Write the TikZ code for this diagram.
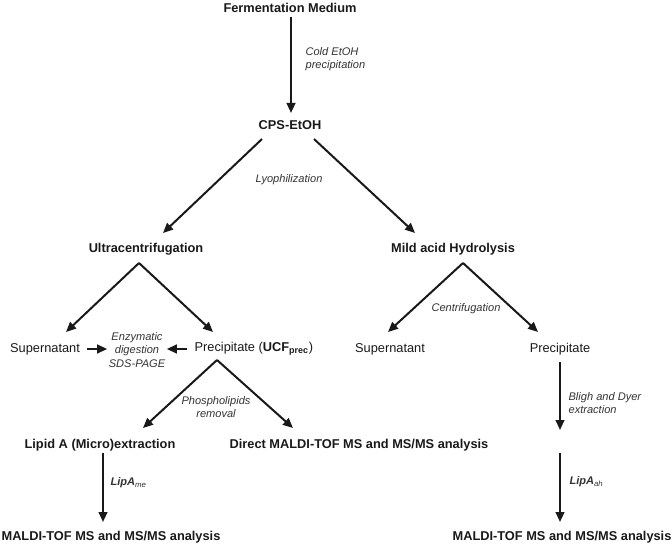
\documentclass[tikz,border=0pt]{standalone}
\usepackage{fontspec}
\setmainfont{Liberation Sans}
\usetikzlibrary{arrows.meta,calc}

\begin{document}
\begin{tikzpicture}[x=0.75pt, y=-0.75pt,
        hd/.style={font=\fontsize{9.6}{11}\selectfont\bfseries, text=black!90, inner sep=1pt},
        pl/.style={font=\fontsize{9.6}{11}\selectfont, text=black!90, inner sep=1pt},
        note/.style={font=\fontsize{8.3}{9.8}\selectfont\itshape, text=black!80, align=center, inner sep=1pt},
        arr/.style={-{Triangle[length=7.5pt,width=6.5pt]}, line width=1.5pt, black!90}
    ]
    \useasboundingbox (0,0) rectangle (672,549);

    % stufen
    \node[hd] (fm) at (290,8) {Fermentation Medium};
    \node[hd] (cps) at (290,125) {CPS-EtOH};
    \node[hd] (uc) at (146,249) {Ultracentrifugation};
    \node[hd] (mah) at (453,249) {Mild acid Hydrolysis};

    \node[pl] (supL) at (45,349) {Supernatant};
    \node[note] (enz) at (137,350) {Enzymatic\\digestion\\SDS-PAGE};
    \node[pl, anchor=west] (precL) at (193,349) {Precipitate (\textbf{UCF}\textsubscript{\textbf{prec}})};
    \node[pl] (supR) at (390,349) {Supernatant};
    \node[pl] (precR) at (560,349) {Precipitate};

    \node[hd] (lipid) at (100,445) {Lipid A (Micro)extraction};
    \node[hd] (direct) at (359,445) {Direct MALDI-TOF MS and MS/MS analysis};
    \coordinate (lipR) at (560,445);

    \node[hd] (msL) at (111,537) {MALDI-TOF MS and MS/MS analysis};
    \node[hd] (msR) at (562,537) {MALDI-TOF MS and MS/MS analysis};

    % verfahren (kursiv)
    \node[note, anchor=west, align=left] (cold) at (304,59) {Cold EtOH\\precipitation};
    \node[note] (lyo) at (289,180) {Lyophilization};
    \node[note] (cent) at (466,309) {Centrifugation};
    \node[note] (phos) at (216,407) {Phospholipids\\removal};
    \node[note, anchor=west, align=left] (bligh) at (567,403) {Bligh and Dyer\\extraction};
    \node[note, anchor=west] (lipme) at (109,483) {\textbf{LipA}\textsubscript{me}};
    \node[note, anchor=west] (lipah) at (568,482) {\textbf{LipA}\textsubscript{ah}};

    % verzweigungen
    \coordinate (ucTop) at ($(uc)+(-7,14)$);
    \coordinate (mahTop) at ($(mah)+(10,14)$);
    \coordinate (precTop) at ($(precL.west)+(24,11)$);

    % pfeile
    \draw[arr] ($(fm)+(1,9)$) -- ($(cps)+(1,-12)$);
    \draw[arr] ($(cps)+(-28,14)$) -- ($(uc)+(17,-16)$);
    \draw[arr] ($(cps)+(24,14)$) -- ($(mah)+(-38,-16)$);
    \draw[arr] (ucTop) -- ($(supL)+(21,-17)$);
    \draw[arr] (ucTop) -- ($(precL.west)+(20,-17)$);
    \draw[arr] (mahTop) -- ($(supR)+(-2,-17)$);
    \draw[arr] (mahTop) -- ($(precR)+(-22,-17)$);
    \draw[arr, shorten <=4pt] (supL.east) -- (supL.east -| enz.west);
    \draw[arr, shorten <=4.5pt] (precL.west) -- (precL.west -| enz.east);
    \draw[arr] (precTop) -- ($(lipid)+(43,-17)$);
    \draw[arr] (precTop) -- ($(direct)+(-66,-17)$);
    \draw[arr] ($(precR)+(0,13)$) -- ($(lipR)+(0,-15)$);
    \draw[arr] ($(lipR)+(0,8)$) -- ($(msR)+(-2,-15)$);
    \draw[arr] ($(lipid)+(3,8)$) -- ($(msL)+(-8,-15)$);
\end{tikzpicture}
\end{document}
